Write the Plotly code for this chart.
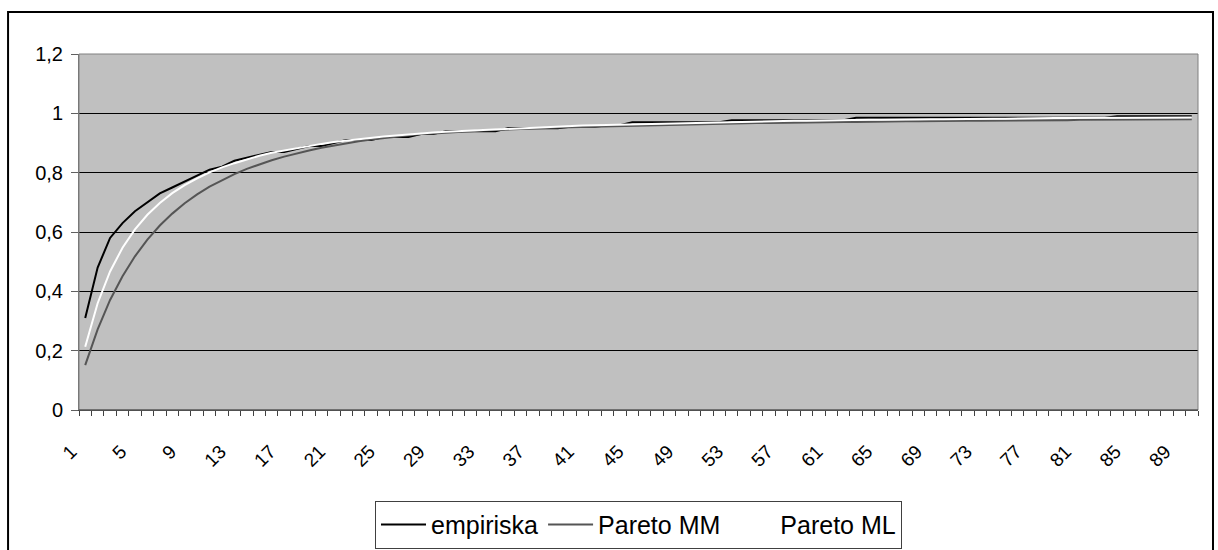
import plotly.graph_objects as go

CATEGORIES = list(range(1, 91))
X_TICK_VALUES = [1, 5, 9, 13, 17, 21, 25, 29, 33, 37, 41, 45, 49, 53, 57, 61, 65, 69, 73, 77, 81, 85, 89]
Y_TICK_VALUES = [0, 0.2, 0.4, 0.6, 0.8, 1.0, 1.2]
Y_TICK_LABELS = ["0", "0,2", "0,4", "0,6", "0,8", "1", "1,2"]

EMPIRISKA = [
    0.31, 0.48, 0.58, 0.63, 0.67, 0.70, 0.73, 0.75, 0.77, 0.79,
    0.81, 0.82, 0.84, 0.85, 0.86, 0.87, 0.87, 0.88, 0.89, 0.89,
    0.90, 0.91, 0.91, 0.91, 0.92, 0.92, 0.92, 0.93, 0.93, 0.94,
    0.94, 0.94, 0.94, 0.94, 0.95, 0.95, 0.95, 0.95, 0.95, 0.955,
    0.955, 0.955, 0.96, 0.96, 0.97, 0.97, 0.97, 0.97, 0.97, 0.97,
    0.97, 0.97, 0.977, 0.977, 0.977, 0.977, 0.977, 0.977, 0.977, 0.977,
    0.977, 0.977, 0.985, 0.985, 0.985, 0.985, 0.985, 0.985, 0.985, 0.985,
    0.985, 0.985, 0.985, 0.985, 0.985, 0.985, 0.985, 0.985, 0.985, 0.985,
    0.985, 0.985, 0.985, 0.99, 0.99, 0.99, 0.99, 0.99, 0.99, 0.99,
]

PARETO_MM = [
    0.151, 0.272, 0.371, 0.451, 0.518, 0.574, 0.622, 0.662, 0.697, 0.727,
    0.753, 0.775, 0.795, 0.813, 0.828, 0.842, 0.854, 0.865, 0.875, 0.884,
    0.892, 0.899, 0.906, 0.912, 0.917, 0.922, 0.927, 0.930, 0.932, 0.935,
    0.937, 0.940, 0.942, 0.944, 0.946, 0.947, 0.949, 0.950, 0.952, 0.953,
    0.954, 0.955, 0.956, 0.958, 0.959, 0.960, 0.961, 0.962, 0.963, 0.963,
    0.964, 0.965, 0.966, 0.966, 0.967, 0.967, 0.968, 0.969, 0.969, 0.970,
    0.970, 0.971, 0.971, 0.972, 0.972, 0.972, 0.973, 0.973, 0.974, 0.974,
    0.974, 0.975, 0.975, 0.975, 0.976, 0.976, 0.976, 0.977, 0.977, 0.977,
    0.978, 0.978, 0.978, 0.978, 0.979, 0.979, 0.979, 0.979, 0.980, 0.980,
]

PARETO_ML = [
    0.213, 0.360, 0.467, 0.547, 0.609, 0.658, 0.698, 0.731, 0.758, 0.781,
    0.801, 0.818, 0.832, 0.845, 0.857, 0.867, 0.875, 0.883, 0.891, 0.897,
    0.903, 0.908, 0.913, 0.917, 0.922, 0.925, 0.929, 0.932, 0.935, 0.938,
    0.940, 0.943, 0.945, 0.947, 0.949, 0.951, 0.953, 0.954, 0.956, 0.957,
    0.959, 0.960, 0.961, 0.963, 0.964, 0.965, 0.966, 0.967, 0.968, 0.969,
    0.969, 0.970, 0.971, 0.972, 0.973, 0.973, 0.974, 0.975, 0.975, 0.976,
    0.976, 0.977, 0.977, 0.978, 0.978, 0.979, 0.979, 0.980, 0.980, 0.980,
    0.981, 0.981, 0.982, 0.982, 0.982, 0.983, 0.983, 0.983, 0.984, 0.984,
    0.984, 0.984, 0.985, 0.985, 0.985, 0.985, 0.986, 0.986, 0.986, 0.986,
]

SERIES = [
    ("empiriska", EMPIRISKA, "#000000"),
    ("Pareto MM", PARETO_MM, "#555555"),
    ("Pareto ML", PARETO_ML, "#FFFFFF"),
]

FONT = "Liberation Sans, Arial, sans-serif"

fig = go.Figure()
for name, values, color in SERIES:
    fig.add_trace(go.Scatter(
        x=CATEGORIES, y=values, name=name, mode="lines",
        line=dict(color=color, width=2),
    ))

n = len(CATEGORIES)
boundaries = [c - 0.5 for c in CATEGORIES] + [CATEGORIES[-1] + 0.5]

fig.update_layout(
    width=1218, height=550,
    margin=dict(l=79, r=20, t=54, b=140, autoexpand=False),
    paper_bgcolor="#FFFFFF",
    plot_bgcolor="#C0C0C0",
    font=dict(family=FONT, color="#000000"),
    showlegend=True,
    legend=dict(
        orientation="h", x=0.5, xanchor="center", y=-0.255, yanchor="top",
        bgcolor="#FFFFFF", bordercolor="#404040", borderwidth=1,
        font=dict(size=25, family=FONT, color="#000000"),
        itemwidth=45, tracegroupgap=0,
    ),
    xaxis=dict(
        range=[0.5, n + 0.5],
        tickmode="array", tickvals=X_TICK_VALUES,
        ticktext=[str(v) for v in X_TICK_VALUES],
        ticks="", tickangle=-45,
        tickfont=dict(size=19, family=FONT),
        ticklabelstandoff=22, ticklabelshift=-14,
        automargin=False,
        showgrid=False, zeroline=False,
        showline=True, linecolor="#404040", linewidth=1,
        minor=dict(tickmode="array", tickvals=boundaries, ticks="outside",
                   ticklen=5, tickcolor="#404040", tickwidth=1, showgrid=False),
    ),
    yaxis=dict(
        range=[0, 1.2],
        tickmode="array", tickvals=Y_TICK_VALUES, ticktext=Y_TICK_LABELS,
        ticks="outside", ticklen=7, tickcolor="#606060",
        tickfont=dict(size=20, family=FONT),
        ticklabelstandoff=4,
        automargin=False,
        showgrid=True, gridcolor="#000000", gridwidth=1,
        zeroline=False,
        showline=True, linecolor="#707070", linewidth=1,
    ),
    shapes=[
        dict(type="rect", xref="paper", yref="paper", x0=0, x1=1, y0=0, y1=1,
             line=dict(color="#808080", width=1), layer="above"),
        dict(type="line", xref="paper", yref="paper", x0=0, x1=1, y0=0, y1=0,
             line=dict(color="#404040", width=1), layer="above"),
        dict(type="rect", xref="paper", yref="paper",
             x0=-0.0634, x1=1.0134, y0=-0.43, y1=1.118,
             line=dict(color="#000000", width=2), layer="above"),
    ],
)

fig.write_html("out.html")
